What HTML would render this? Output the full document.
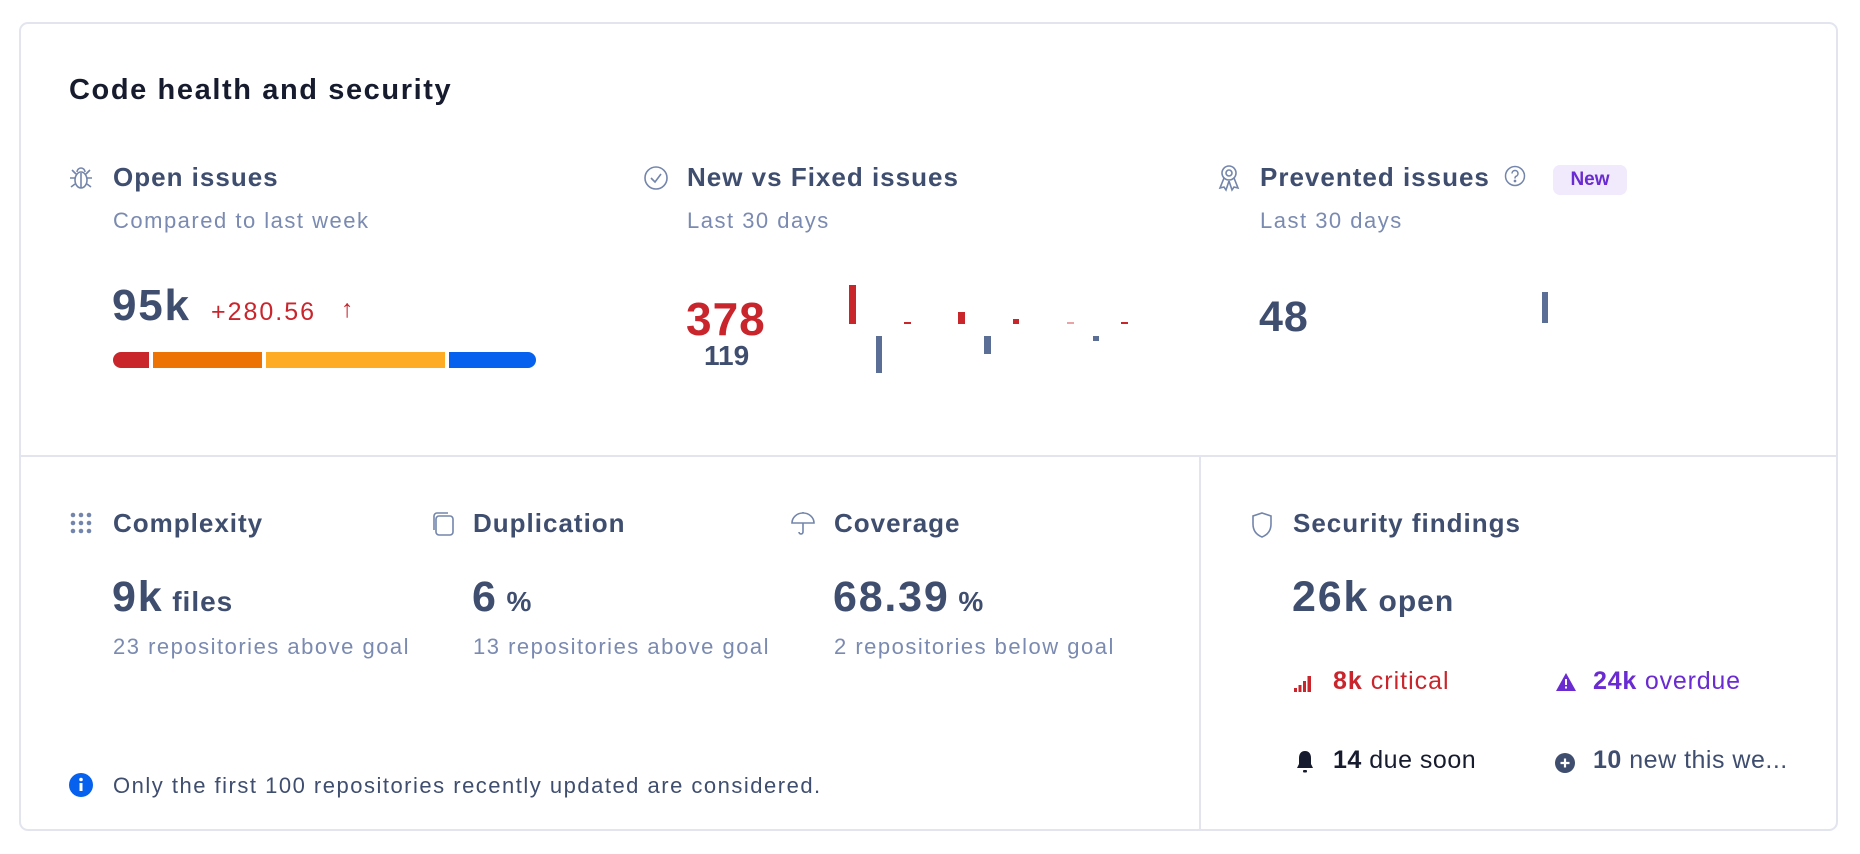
<!DOCTYPE html>
<html><head><meta charset="utf-8"><style>
*{margin:0;padding:0;box-sizing:border-box}
body{width:1860px;height:854px;background:#fff;position:relative;overflow:hidden;font-family:"Liberation Sans",sans-serif}
.a{position:absolute;white-space:nowrap;line-height:1}
.card{position:absolute;left:19px;top:22px;width:1819px;height:809px;border:2px solid #e2e5ee;border-radius:9px}
.t{font-size:26px;font-weight:700;color:#3f4e6f;letter-spacing:1px}
.s{font-size:22px;color:#7a8ab0;letter-spacing:1.5px}
.big{font-size:44px;font-weight:700;color:#3f4e6f;letter-spacing:1.8px}
.bar{position:absolute}
</style></head><body>
<div class="card"></div>
<div class="a" style="left:19px;top:455px;width:1819px;height:2px;background:#e2e5ee"></div>
<div class="a" style="left:1199px;top:456px;width:2px;height:375px;background:#e2e5ee"></div>

<div class="a" style="left:69px;top:76px;font-size:29px;font-weight:700;color:#161b2e;letter-spacing:1.6px">Code health and security</div>

<!-- Open issues -->
<svg class="a" style="left:68px;top:164px" width="26" height="28" viewBox="0 0 26 28" fill="none" stroke="#7385ab" stroke-width="1.6"><ellipse cx="13" cy="16" rx="6" ry="8"/><path d="M9 8a4 4 0 0 1 8 0M13 9v15M7 14H2M19 14h5M7 20l-4 3M19 20l4 3M8 10L4 6M18 10l4-4"/></svg>
<div class="a t" style="left:113px;top:164px">Open issues</div>
<div class="a s" style="left:113px;top:210px">Compared to last week</div>
<div class="a big" style="left:112px;top:284px">95k</div>
<div class="a" style="left:211px;top:300px;font-size:25px;color:#c9252c;letter-spacing:2px">+280.56</div>
<div class="a" style="left:341px;top:297px;font-size:25px;color:#c9252c;font-weight:700">↑</div>
<div class="bar" style="left:113px;top:352px;width:36px;height:16px;background:#c9262b;border-radius:8px 0 0 8px"></div>
<div class="bar" style="left:153px;top:352px;width:109px;height:16px;background:#ec7304"></div>
<div class="bar" style="left:266px;top:352px;width:179px;height:16px;background:#fdac23"></div>
<div class="bar" style="left:449px;top:352px;width:87px;height:16px;background:#0561ee;border-radius:0 8px 8px 0"></div>

<!-- New vs Fixed -->
<svg class="a" style="left:643px;top:165px" width="26" height="26" viewBox="0 0 26 26" fill="none" stroke="#7385ab" stroke-width="1.6"><circle cx="13" cy="13" r="11"/><path d="M8 13l4 4 6-8"/></svg>
<div class="a t" style="left:687px;top:164px">New vs Fixed issues</div>
<div class="a s" style="left:687px;top:210px">Last 30 days</div>
<div class="a" style="left:686px;top:296px;font-size:46px;font-weight:700;color:#c9252c;letter-spacing:1px">378</div>
<div class="a" style="left:704px;top:342px;font-size:28px;font-weight:700;color:#3f4e6f">119</div>
<div class="bar" style="left:849px;top:285px;width:7px;height:39px;background:#c9262b"></div>
<div class="bar" style="left:904px;top:322px;width:7px;height:2px;background:#c9262b"></div>
<div class="bar" style="left:958px;top:312px;width:7px;height:12px;background:#c9262b"></div>
<div class="bar" style="left:1013px;top:319px;width:6px;height:5px;background:#c9262b"></div>
<div class="bar" style="left:1067px;top:322px;width:7px;height:2px;background:#eaa4a7"></div>
<div class="bar" style="left:1121px;top:322px;width:7px;height:2px;background:#c9262b"></div>
<div class="bar" style="left:876px;top:336px;width:6px;height:37px;background:#5a6e96"></div>
<div class="bar" style="left:984px;top:336px;width:7px;height:18px;background:#5a6e96"></div>
<div class="bar" style="left:1093px;top:336px;width:6px;height:5px;background:#5a6e96"></div>

<!-- Prevented -->
<svg class="a" style="left:1217px;top:163px" width="24" height="30" viewBox="0 0 24 30" fill="none" stroke="#7385ab" stroke-width="1.6"><circle cx="12" cy="10" r="7"/><circle cx="12" cy="10" r="3"/><path d="M7 15l-4 10 4-1 2 3 3-9M17 15l4 10-4-1-2 3-3-9"/></svg>
<div class="a t" style="left:1260px;top:164px">Prevented issues</div>
<svg class="a" style="left:1504px;top:165px" width="22" height="22" viewBox="0 0 22 22" fill="none" stroke="#7385ab" stroke-width="1.5"><circle cx="11" cy="11" r="9.5"/><path d="M8 8.5a3 3 0 1 1 4 2.8c-1 .4-1 1-1 2.2"/><circle cx="11" cy="16" r=".6" fill="#7385ab"/></svg>
<div class="a" style="left:1553px;top:165px;width:74px;height:30px;background:#f1eafd;border-radius:7px;font-size:19px;font-weight:700;color:#6a2bd0;text-align:center;line-height:30px">New</div>
<div class="a s" style="left:1260px;top:210px">Last 30 days</div>
<div class="a" style="left:1259px;top:296px;font-size:43px;font-weight:700;color:#3f4e6f;letter-spacing:1px">48</div>
<div class="bar" style="left:1542px;top:292px;width:6px;height:31px;background:#5a6e96"></div>

<!-- bottom -->
<svg class="a" style="left:70px;top:512px" width="22" height="22" viewBox="0 0 22 22" fill="#7385ab"><circle cx="3" cy="3" r="2.3"/><circle cx="11" cy="3" r="2.3"/><circle cx="19" cy="3" r="2.3"/><circle cx="3" cy="11" r="2.3"/><circle cx="11" cy="11" r="2.3"/><circle cx="19" cy="11" r="2.3"/><circle cx="3" cy="19" r="2.3"/><circle cx="11" cy="19" r="2.3"/><circle cx="19" cy="19" r="2.3"/></svg>
<div class="a t" style="left:113px;top:510px">Complexity</div>
<div class="a big" style="left:112px;top:576px;font-size:43px">9k<span style="font-size:28px;letter-spacing:1px"> files</span></div>
<div class="a s" style="left:113px;top:636px">23 repositories above goal</div>

<svg class="a" style="left:430px;top:511px" width="26" height="26" viewBox="0 0 26 26" fill="none" stroke="#7385ab" stroke-width="1.6"><rect x="6" y="5" width="17" height="19" rx="3"/><path d="M4 19V5a3 3 0 0 1 3-3h11"/></svg>
<div class="a t" style="left:473px;top:510px">Duplication</div>
<div class="a big" style="left:472px;top:576px;font-size:43px">6<span style="font-size:28px;letter-spacing:1px"> %</span></div>
<div class="a s" style="left:473px;top:636px">13 repositories above goal</div>

<svg class="a" style="left:790px;top:511px" width="26" height="26" viewBox="0 0 26 26" fill="none" stroke="#7385ab" stroke-width="1.6"><path d="M2 12a11 10 0 0 1 22 0zM13 12v9a2 2 0 0 1-4 0M13 1v1"/></svg>
<div class="a t" style="left:834px;top:510px">Coverage</div>
<div class="a big" style="left:833px;top:576px;font-size:43px">68.39<span style="font-size:28px;letter-spacing:1px"> %</span></div>
<div class="a s" style="left:834px;top:636px">2 repositories below goal</div>

<svg class="a" style="left:69px;top:773px" width="24" height="24" viewBox="0 0 24 24"><circle cx="12" cy="12" r="12" fill="#0561ee"/><rect x="10.5" y="10" width="3" height="8" fill="#fff"/><circle cx="12" cy="6.5" r="1.8" fill="#fff"/></svg>
<div class="a" style="left:113px;top:775px;font-size:22px;color:#3f4e6f;letter-spacing:1.5px">Only the first 100 repositories recently updated are considered.</div>

<!-- Security -->
<svg class="a" style="left:1250px;top:511px" width="24" height="28" viewBox="0 0 24 28" fill="none" stroke="#7385ab" stroke-width="1.6"><path d="M12 2l9 3v8c0 7-4 11-9 13C7 24 3 20 3 13V5z"/></svg>
<div class="a t" style="left:1293px;top:510px">Security findings</div>
<div class="a big" style="left:1292px;top:576px;font-size:43px">26k<span style="font-size:30px;letter-spacing:1px"> open</span></div>

<svg class="a" style="left:1294px;top:674px" width="20" height="18" viewBox="0 0 20 18" fill="#c9252c"><rect x="0" y="14" width="3" height="4"/><rect x="4.5" y="11" width="3" height="7"/><rect x="9" y="7" width="3" height="11"/><rect x="13.5" y="2" width="3.5" height="16"/></svg>
<div class="a" style="left:1333px;top:669px;font-size:25px;color:#c9252c;letter-spacing:1px"><b>8k</b> critical</div>
<svg class="a" style="left:1555px;top:672px" width="22" height="20" viewBox="0 0 22 20"><path d="M11 1L21 19H1z" fill="#6a2bd0"/><rect x="10" y="7" width="2" height="6" fill="#fff"/><rect x="10" y="14.5" width="2" height="2" fill="#fff"/></svg>
<div class="a" style="left:1593px;top:669px;font-size:25px;color:#6a2bd0;letter-spacing:0.8px"><b>24k</b> overdue</div>

<svg class="a" style="left:1295px;top:750px" width="20" height="24" viewBox="0 0 20 24"><path d="M10 1c-4 0-6 3-6 7v6l-2 4h16l-2-4V8c0-4-2-7-6-7z" fill="#161b2e"/><rect x="8" y="20" width="4" height="2.5" rx="1" fill="#161b2e"/></svg>
<div class="a" style="left:1333px;top:748px;font-size:25px;color:#161b2e;letter-spacing:0.5px"><b>14</b> due soon</div>
<svg class="a" style="left:1555px;top:753px" width="20" height="20" viewBox="0 0 20 20"><circle cx="10" cy="10" r="10" fill="#3f4e6f"/><path d="M10 5.5v9M5.5 10h9" stroke="#fff" stroke-width="2.2"/></svg>
<div class="a" style="left:1593px;top:748px;font-size:25px;color:#3f4e6f;letter-spacing:0.5px"><b>10</b> new this we...</div>
</body></html>
